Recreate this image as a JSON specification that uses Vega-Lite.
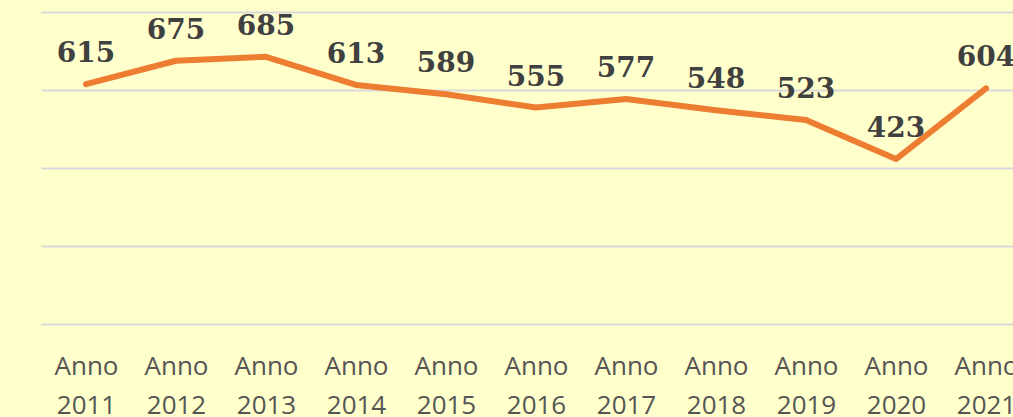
{
  "$schema": "https://vega.github.io/schema/vega-lite/v6.json",
  "autosize": "none",
  "width": 972,
  "height": 312,
  "padding": {"left": 41, "top": 12, "right": 0, "bottom": 93},
  "background": "#FFFFCC",
  "config": {"view": {"stroke": null}},
  "data": {
    "values": [
      {"anno": "Anno 2011", "valore": 615},
      {"anno": "Anno 2012", "valore": 675},
      {"anno": "Anno 2013", "valore": 685},
      {"anno": "Anno 2014", "valore": 613},
      {"anno": "Anno 2015", "valore": 589},
      {"anno": "Anno 2016", "valore": 555},
      {"anno": "Anno 2017", "valore": 577},
      {"anno": "Anno 2018", "valore": 548},
      {"anno": "Anno 2019", "valore": 523},
      {"anno": "Anno 2020", "valore": 423},
      {"anno": "Anno 2021", "valore": 604}
    ]
  },
  "encoding": {
    "x": {
      "field": "anno",
      "type": "ordinal",
      "sort": null,
      "scale": {"type": "point", "padding": 0.5, "range": [0, 990]},
      "axis": {
        "title": null,
        "grid": false,
        "domain": false,
        "ticks": false,
        "labelAngle": 0,
        "labelExpr": "split(datum.label, ' ')",
        "labelFont": "Open Sans",
        "labelFontSize": 26,
        "labelColor": "#555555",
        "labelLineHeight": 39,
        "labelBaseline": "top",
        "labelPadding": 29,
        "labelOverlap": false,
        "labelBound": false
      }
    },
    "y": {
      "field": "valore",
      "type": "quantitative",
      "scale": {"domain": [0, 800], "nice": false},
      "axis": {
        "title": null,
        "values": [0, 200, 400, 600, 800],
        "labels": false,
        "domain": false,
        "ticks": false,
        "grid": true,
        "gridColor": "#D9D9D9",
        "gridWidth": 2
      }
    }
  },
  "layer": [
    {
      "mark": {"type": "line", "color": "#ED7D31", "strokeWidth": 6, "strokeCap": "round", "strokeJoin": "round", "clip": false}
    },
    {
      "mark": {"type": "text", "font": "DejaVu Serif", "fontWeight": "bold", "fontSize": 28, "color": "#404040", "baseline": "middle", "dy": -30, "clip": false},
      "encoding": {"text": {"field": "valore", "type": "quantitative"}}
    }
  ]
}
